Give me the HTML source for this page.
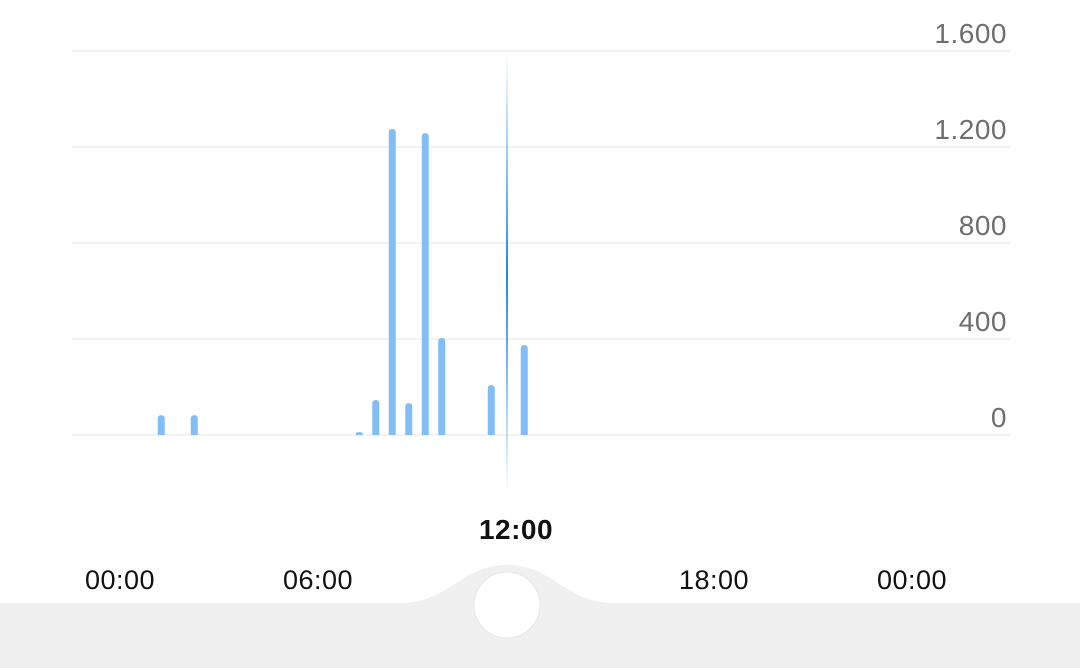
<!DOCTYPE html>
<html><head><meta charset="utf-8"><style>
html,body{margin:0;padding:0;background:#fff;width:1080px;height:668px;overflow:hidden;font-family:"Liberation Sans",sans-serif}
</style></head><body>
<svg id="chart" width="1080" height="668" viewBox="0 0 1080 668" xmlns="http://www.w3.org/2000/svg">
<defs>
<linearGradient id="cur" x1="0" y1="0" x2="0" y2="1">
<stop offset="0" stop-color="#1e88e5" stop-opacity="0"/>
<stop offset="0.5" stop-color="#1e88e5" stop-opacity="1"/>
<stop offset="1" stop-color="#1e88e5" stop-opacity="0"/>
</linearGradient>
</defs>
<g id="grid"></g>
<g id="bars"></g>
<rect x="506" y="55" width="2" height="440" fill="url(#cur)"/>
<text x="516" y="539" font-size="28" font-weight="bold" fill="#111" text-anchor="middle" letter-spacing="0.5">12:00</text>
<g id="xlabels"></g>
<path d="M0 603 L400 603 C450 603 460 565 507 565 C554 565 564 603 614 603 L1080 603 L1080 668 L0 668 Z" fill="#f0f0f0"/>
<circle cx="507" cy="605" r="33" fill="#fff" stroke="#e6e6e6" stroke-width="1"/>
</svg>
<script>
const yTicks=[0,400,800,1200,1600];
const yTickLabels=["0","400","800","1.200","1.600"];
const xTicks=[0,6,12,18,24];
const xTickLabels=["00:00","06:00","","18:00","00:00"];
const barHours=[1,2,7,7.5,8,8.5,9,9.5,11,12];
const barValues=[83,83,12,146,1275,133,1258,404,208,375];
const NS="http://www.w3.org/2000/svg";
const y=v=>435-v*96/400;
const x=h=>120+h*33;
const grid=document.getElementById('grid');
yTicks.forEach((t,i)=>{
 const l=document.createElementNS(NS,'line');
 
 
 l.setAttribute('x1',72);l.setAttribute('x2',1010);
 l.setAttribute('y1',y(t));l.setAttribute('y2',y(t));
 l.setAttribute('stroke','#e6e6e6');l.setAttribute('stroke-width','1');
 grid.appendChild(l);
 const tx=document.createElementNS(NS,'text');
 
 
 tx.setAttribute('x',1007);tx.setAttribute('y',y(t)-8);
 tx.setAttribute('text-anchor','end');tx.setAttribute('font-size','28');tx.setAttribute('fill','#6e6e6e');
 tx.setAttribute('letter-spacing','0.5');
 tx.textContent=yTickLabels[i];grid.appendChild(tx);
});
const xl=document.getElementById('xlabels');
xTicks.forEach((t,i)=>{
 if(!xTickLabels[i])return;
 const tx=document.createElementNS(NS,'text');
 
 
 tx.setAttribute('x',x(t));tx.setAttribute('y',589);
 tx.setAttribute('text-anchor','middle');tx.setAttribute('font-size','27');tx.setAttribute('fill','#111');
 tx.setAttribute('letter-spacing','0.5');
 tx.textContent=xTickLabels[i];xl.appendChild(tx);
});
const bars=document.getElementById('bars');
barHours.forEach((h,i)=>{
 const cx=x(h+0.25),top=y(barValues[i]),w=7;
 const p=document.createElementNS(NS,'path');
 
 
 const r=Math.min(3.5,(435-top)/2);
 p.setAttribute('d',`M${cx-w/2} 435 L${cx-w/2} ${top+r} Q${cx-w/2} ${top} ${cx} ${top} Q${cx+w/2} ${top} ${cx+w/2} ${top+r} L${cx+w/2} 435 Z`);
 p.setAttribute('fill','#82bef5');
 bars.appendChild(p);
});
</script>
</body></html>
